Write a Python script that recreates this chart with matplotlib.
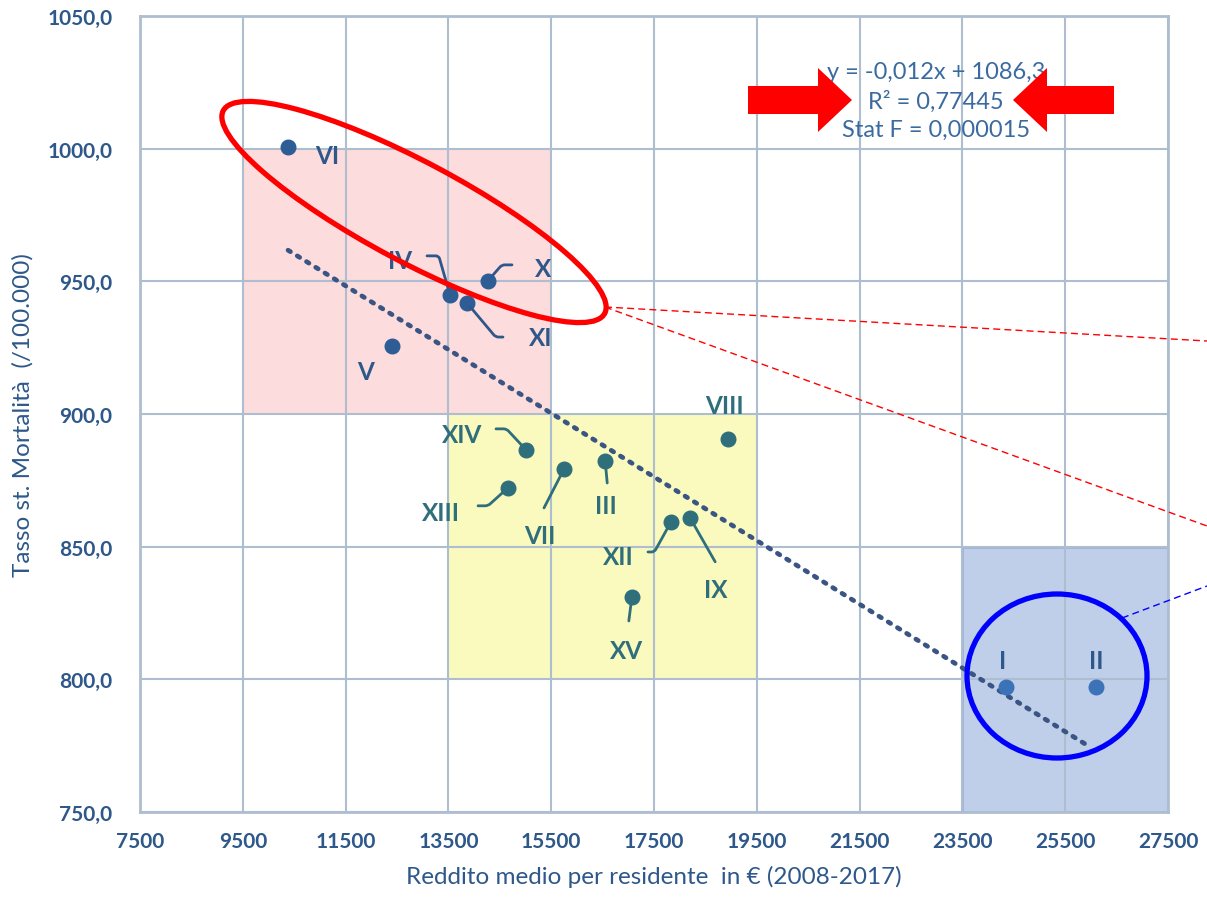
import numpy as np
import matplotlib
matplotlib.use("Agg")
import matplotlib.pyplot as plt
from matplotlib.patches import Rectangle, Ellipse, FancyArrow
from matplotlib.lines import Line2D
from matplotlib.transforms import IdentityTransform
from matplotlib import ticker

plt.rcParams['font.family'] = ['Lato', 'DejaVu Sans']

# municipi: reddito medio vs tasso standardizzato di mortalita
municipi = ["I", "II", "III", "IV", "V", "VI", "VII", "VIII",
            "IX", "X", "XI", "XII", "XIII", "XIV", "XV"]
reddito = [24350, 26100, 16550, 13530, 12400, 10380, 15750, 18940,
           18200, 14270, 13860, 17830, 14660, 15010, 17070]
mortalita = [797.2, 797.2, 882.3, 944.9, 925.7, 1000.5, 879.3, 890.6,
             860.9, 950.2, 941.9, 859.3, 872.2, 886.5, 831.1]

# retta di regressione
slope = -0.012
intercept = 1086.3
r2 = "0,77445"
stat_f = "0,000015"

# zone evidenziate: (x0, x1, y0, y1)
zona_rossa = (9500, 15500, 900, 1000)
zona_gialla = (13500, 19500, 800, 900)
zona_blu = (23500, 27500, 750, 850)

# posizione etichette: testo, inizio leader, angolo del tratto finale
etichette = {
    "I":    ((24290, 807.0), None, None),
    "II":   ((26100, 807.0), None, None),
    "III":  ((16570, 865.4), (16590, 874.0), None),
    "IV":   ((12560, 957.7), (13084, 959.6), 106),
    "V":    ((11880, 916.2), None, None),
    "VI":   ((11150, 997.5), None, None),
    "VII":  ((15280, 854.1), (15360, 864.6), None),
    "VIII": ((18880, 903.1), None, None),
    "IX":   ((18710, 833.7), (18690, 844.3), None),
    "X":    ((15340, 954.7), (14737, 956.2), 49),
    "XI":   ((15300, 929.0), (14562, 929.0), 130),
    "XII":  ((16800, 846.2), (17383, 848.0), 61),
    "XIII": ((13360, 862.7), (14076, 865.4), 42),
    "XIV":  ((13760, 892.1), (14426, 894.4), 133),
    "XV":   ((16960, 810.7), (17010, 822.0), None),
}

W, H = 1207, 904
fig = plt.figure(figsize=(W / 100, H / 100), dpi=100)
ax = fig.add_axes([140 / W, 1 - 813 / H, 1028 / W, 796 / H])

grid_col = "#aebdd0"
txt_col = "#2d5889"
teal = "#2f6e7b"


def in_zone(x, y, z):
    return z[0] <= x <= z[1] and z[2] <= y <= z[3]


def mark_colour(x, y):
    if in_zone(x, y, zona_gialla):
        return teal
    if in_zone(x, y, zona_blu):
        return "#3b72b8"
    return "#2e5d96"


for z, fc, ec in [(zona_rossa, "#fcdcdc", "none"),
                  (zona_gialla, "#fafabf", "none"),
                  (zona_blu, "#bfcfe9", "#9db2d8")]:
    ax.add_patch(Rectangle((z[0], z[2]), z[1] - z[0], z[3] - z[2],
                           facecolor=fc, edgecolor=ec, lw=2, zorder=1))

# trend line
xs = np.linspace(min(reddito), max(reddito) - 100, 50)
ax.plot(xs, slope * xs + intercept, color="#3a5583", lw=3.4,
        linestyle=(0, (0.6, 1.7)), dash_capstyle="round", zorder=3)

for nome, x, y in zip(municipi, reddito, mortalita):
    col = mark_colour(x, y)
    ax.plot(x, y, "o", ms=10.5, color=col, zorder=4)
    (tx, ty), lead, ang = etichette[nome]
    lab_col = teal if in_zone(x, y, zona_gialla) else txt_col
    ax.text(tx, ty, nome, ha="center", va="center", fontsize=17.5,
            fontweight="bold", color=lab_col, zorder=5)
    if lead is not None:
        if ang is None:
            cs = "arc3,rad=0"
        else:
            cs = f"angle,angleA=0,angleB={ang},rad=3"
        ax.annotate("", xy=(x, y), xytext=lead,
                    arrowprops=dict(arrowstyle="-", color=lab_col, lw=2,
                                    shrinkA=0, shrinkB=4,
                                    connectionstyle=cs), zorder=4)

ax.text(22990, 1018.3,
        f"y = {slope:.3f}x + {intercept:.1f}".replace(".", ",")
        + f"\nR\u00b2 = {r2}\nStat F = {stat_f}",
        ha="center", va="center", fontsize=17, color="#3a6a9f",
        linespacing=1.42, zorder=5)

ax.set_xlim(7500, 27500)
ax.set_ylim(750, 1050)
ax.set_xticks(np.arange(7500, 27501, 2000))
ax.set_yticks(np.arange(750, 1051, 50))
ax.yaxis.set_major_formatter(ticker.FuncFormatter(lambda v, p: f"{v:.1f}".replace(".", ",")))
ax.xaxis.set_major_formatter(ticker.FuncFormatter(lambda v, p: f"{v:.0f}"))
ax.grid(True, color=grid_col, lw=1.5)
ax.tick_params(length=0, labelsize=15, labelcolor=txt_col)
ax.tick_params(axis="y", pad=20)
ax.tick_params(axis="x", pad=14)
for lab in ax.get_xticklabels() + ax.get_yticklabels():
    lab.set_fontweight("bold")
for s in ax.spines.values():
    s.set_color(grid_col)
    s.set_linewidth(2)

ax.set_xlabel("Reddito medio per residente  in \u20ac (2008-2017)",
              fontsize=17.5, color=txt_col, labelpad=10)
ax.set_ylabel("Tasso st. Mortalit\u00e0  (/100.000)",
              fontsize=17.5, color=txt_col, labelpad=10)

# highlights drawn in figure pixels
px = IdentityTransform()
fig.add_artist(Ellipse((414, H - 213), 432, 100, angle=-28, fill=False,
                       edgecolor="#ff0000", lw=3.8, transform=px))
fig.add_artist(Ellipse((1057, H - 677), 180, 164, fill=False,
                       edgecolor="#0000ff", lw=3.8, transform=px))
fig.add_artist(Line2D([605, W], [H - 308, H - 342], color="#ff0000",
                      lw=1, ls=(0, (5, 3)), transform=px))
fig.add_artist(Line2D([605, W], [H - 308, H - 527], color="#ff0000",
                      lw=1, ls=(0, (5, 3)), transform=px))
fig.add_artist(Line2D([1122, W], [H - 619, H - 587], color="#0000ff",
                      lw=1, ls=(0, (5, 3)), transform=px))
fig.add_artist(FancyArrow(748, H - 101, 104, 0, width=28, head_width=64,
                          head_length=34, length_includes_head=True,
                          color="#ff0000", lw=0, transform=px))
fig.add_artist(FancyArrow(1114, H - 101, -101, 0, width=28, head_width=64,
                          head_length=34, length_includes_head=True,
                          color="#ff0000", lw=0, transform=px))

fig.savefig("out.png", dpi=100)
